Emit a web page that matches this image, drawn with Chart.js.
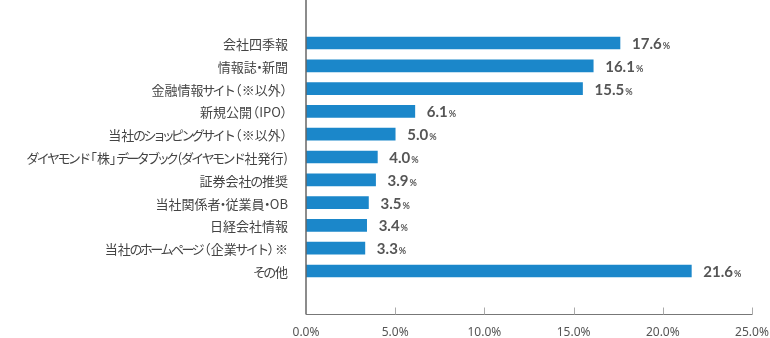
<!DOCTYPE html>
<html>
<head>
<meta charset="utf-8">
<script src="https://cdn.jsdelivr.net/npm/chart.js@4/dist/chart.umd.min.js"></script>
<style>
  html, body { margin: 0; padding: 0; background: #fff; }
  canvas { display: block; }
</style>
</head>
<body>
<canvas id="chart" width="770" height="338"></canvas>
<script>
var categories = [
  '会社四季報',
  '情報誌・新聞',
  '金融情報サイト（※以外）',
  '新規公開（IPO）',
  '当社のショッピングサイト（※以外）',
  'ダイヤモンド「株」データブック(ダイヤモンド社発行)',
  '証券会社の推奨',
  '当社関係者・従業員・OB',
  '日経会社情報',
  '当社のホームページ（企業サイト）※',
  'その他'
];
var shares = [17.6, 16.1, 15.5, 6.1, 5.0, 4.0, 3.9, 3.5, 3.4, 3.3, 21.6];
var xTicks = [0, 5, 10, 15, 20, 25];

var LABEL_FONT = '13px "Noto Sans CJK JP"';

// rough proportional (palt-like) spacing for Japanese labels
function glyphMetrics(ch, em, ctx) {
  if ('（「'.indexOf(ch) >= 0) return { shift: -0.45 * em, adv: 0.55 * em };
  if ('）」'.indexOf(ch) >= 0) return { shift: -0.02 * em, adv: 0.55 * em };
  if (ch === '・') return { shift: -0.3 * em, adv: 0.4 * em };
  var code = ch.charCodeAt(0);
  if (code >= 0x3040 && code <= 0x30ff) {
    if ('ッャュョィッ'.indexOf(ch) >= 0) return { shift: -0.16 * em, adv: 0.66 * em };
    return { shift: -0.1 * em, adv: 0.8 * em };
  }
  var w = ctx.measureText(ch).width;
  return { shift: 0, adv: w };
}

function drawLabel(ctx, text, right, y) {
  var em = 13;
  var parts = [];
  var total = 0;
  for (var i = 0; i < text.length; i++) {
    var m = glyphMetrics(text[i], em, ctx);
    parts.push(m);
    total += m.adv;
  }
  var x = right - total;
  for (var j = 0; j < text.length; j++) {
    ctx.fillText(text[j], x + parts[j].shift, y);
    x += parts[j].adv;
  }
}

// axis lines, tick marks, category labels and value labels
var axisPlugin = {
  id: 'axisPlugin',
  afterDraw: function (chart) {
    var c = chart.ctx;
    var area = chart.chartArea;
    var xs = chart.scales.x;
    var ys = chart.scales.y;
    var axisY = 314.5;
    c.save();
    c.strokeStyle = '#666';
    c.lineWidth = 1.5;
    c.beginPath();
    c.moveTo(area.left, 0);
    c.lineTo(area.left, axisY);
    c.stroke();
    c.lineWidth = 1;
    c.strokeStyle = '#777';
    c.beginPath();
    c.moveTo(area.left, axisY);
    c.lineTo(xs.getPixelForValue(25) + 0.5, axisY);
    c.stroke();
    c.strokeStyle = '#aaa';
    xTicks.forEach(function (t) {
      if (t === 0) return;
      var px = Math.round(xs.getPixelForValue(t)) + 0.5;
      c.beginPath();
      c.moveTo(px, axisY - 7);
      c.lineTo(px, axisY);
      c.stroke();
    });

    c.font = LABEL_FONT;
    c.fillStyle = '#444';
    c.textAlign = 'left';
    c.textBaseline = 'middle';
    categories.forEach(function (lab, i) {
      drawLabel(c, lab, area.left - 18, ys.getPixelForTick(i) + 1);
    });

    var meta = chart.getDatasetMeta(0);
    c.textBaseline = 'alphabetic';
    c.fillStyle = '#555';
    meta.data.forEach(function (bar, i) {
      var txt = shares[i].toFixed(1);
      var x = bar.x + 12;
      var base = bar.y + 6;
      c.font = 'bold 15px Lato';
      c.fillText(txt, x, base);
      var w = c.measureText(txt).width;
      c.font = 'bold 9px Lato';
      c.fillText('%', x + w + 1, base);
    });
    c.restore();
  }
};

new Chart(document.getElementById('chart').getContext('2d'), {
  type: 'bar',
  data: {
    labels: categories,
    datasets: [{
      data: shares,
      backgroundColor: '#1b87ca',
      borderWidth: 0,
      barThickness: 12
    }]
  },
  options: {
    indexAxis: 'y',
    responsive: false,
    animation: false,
    layout: { padding: { top: 31.6, right: 18, left: 0, bottom: 0 } },
    plugins: {
      legend: { display: false },
      tooltip: { enabled: false }
    },
    scales: {
      x: {
        min: 0,
        max: 25,
        grid: { display: false, drawTicks: false },
        border: { display: false },
        afterFit: function (s) {
          s.height = 55.6;
          s.paddingLeft = 0;
          s.paddingRight = 0;
        },
        afterBuildTicks: function (s) {
          s.ticks = xTicks.map(function (v) { return { value: v }; });
        },
        ticks: {
          padding: 43,
          color: '#555',
          font: { family: 'Noto Sans', size: 12 },
          maxRotation: 0,
          callback: function (v) { return v.toFixed(1) + '%'; }
        }
      },
      y: {
        grid: { display: false, drawTicks: false },
        border: { display: false },
        afterFit: function (s) {
          s.width = 306;
          s.paddingTop = 0;
          s.paddingBottom = 0;
        },
        ticks: { display: false }
      }
    }
  },
  plugins: [axisPlugin]
});
</script>
</body>
</html>
